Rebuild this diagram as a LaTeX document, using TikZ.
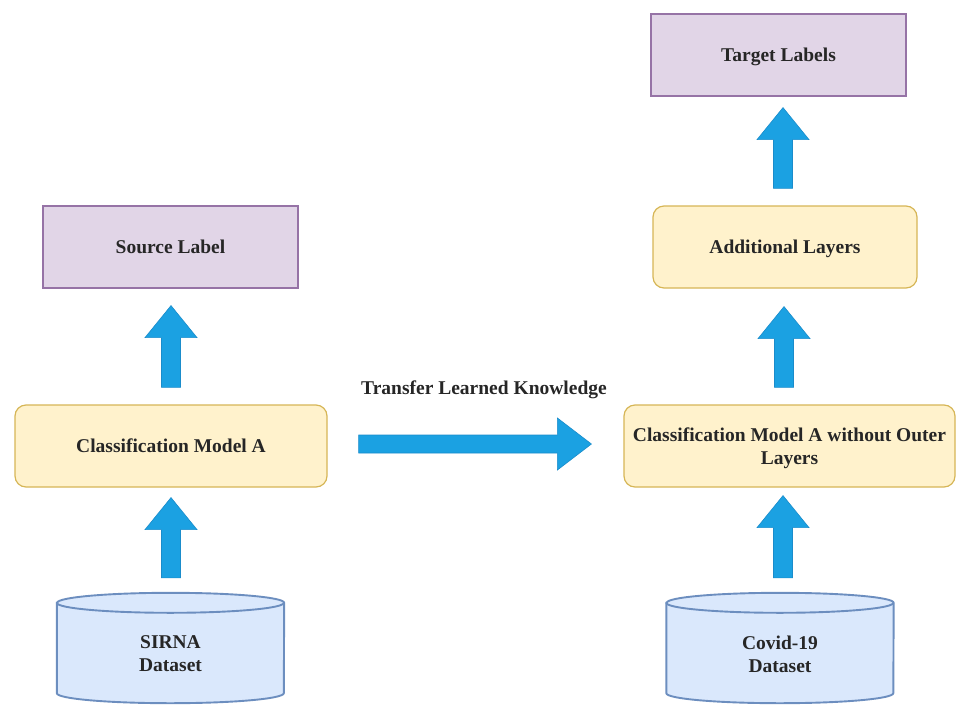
\documentclass[tikz,border=0pt]{standalone}
\usepackage{fontspec}
\setmainfont{Liberation Serif}
\usetikzlibrary{calc}
\definecolor{purfill}{HTML}{E1D5E7}
\definecolor{purline}{HTML}{9673A6}
\definecolor{yelfill}{HTML}{FFF2CC}
\definecolor{yelline}{HTML}{D6B656}
\definecolor{blufill}{HTML}{DAE8FC}
\definecolor{bluline}{HTML}{6C8EBF}
\definecolor{arrfill}{HTML}{1BA1E2}
\definecolor{arrline}{HTML}{1A8CCB}
\tikzset{
  lbl/.style={font=\fontsize{19.5}{23}\selectfont\bfseries, text=black!85, align=center},
  purbox/.style={lbl, draw=purline, fill=purfill, line width=1.2pt, minimum width=255pt, minimum height=82pt, inner sep=0pt, text depth=0pt},
  yelbox/.style={lbl, draw=yelline, fill=yelfill, line width=1.2pt, rounded corners=11pt, minimum height=82pt, inner sep=0pt, text depth=0pt},
  cylbox/.style={lbl, minimum width=227pt, minimum height=110pt, inner sep=0pt},
  cylline/.style={draw=bluline, fill=blufill, line width=1.9pt},
  blockarr/.style={fill=arrfill, draw=arrline, line width=0.6pt}
}
\newcommand{\uparr}[2]{%
  \filldraw[blockarr] let \p1=(#1), \p2=(#2) in
    (\x1-9.5pt,\y1) -- (\x1-9.5pt,\y2-32pt) -- (\x1-26pt,\y2-32pt) -- (\x1,\y2)
    -- (\x1+26pt,\y2-32pt) -- (\x1+9.5pt,\y2-32pt) -- (\x1+9.5pt,\y1) -- cycle;}
\newcommand{\rightarr}[2]{%
  \filldraw[blockarr] let \p1=(#1), \p2=(#2) in
    (\x1,\y1+9pt) -- (\x2-34pt,\y1+9pt) -- (\x2-34pt,\y1+26pt) -- (\x2,\y1)
    -- (\x2-34pt,\y1-26pt) -- (\x2-34pt,\y1-9pt) -- (\x1,\y1-9pt) -- cycle;}
\newcommand{\cylinder}[1]{%
  \filldraw[cylline] ($(#1.north west)+(0,10)$) -- ($(#1.south west)+(0,-10)$)
    arc[start angle=180, end angle=360, x radius=113.5pt, y radius=10pt]
    -- ($(#1.north east)+(0,10)$)
    arc[start angle=0, end angle=180, x radius=113.5pt, y radius=10pt] -- cycle;
  \draw[cylline, fill=none] ($(#1.north west)+(0,10)$)
    arc[start angle=180, end angle=360, x radius=113.5pt, y radius=10pt];}
\begin{document}
\begin{tikzpicture}[x=1pt, y=-1pt]
\useasboundingbox (0,0) rectangle (956,707);
% nodes
\node[purbox] (src) at (170.5,247) {Source Label};
\node[purbox] (tgt) at (778.5,55) {Target Labels};
\node[yelbox, minimum width=312pt] (modA) at (171,446) {Classification Model A};
\node[yelbox, minimum width=331pt] (modB) at (789.5,446) {Classification Model A without Outer\\Layers};
\node[yelbox, minimum width=264pt] (addl) at (785,247) {Additional Layers};
\node[cylbox] (sirna) at (170.5,648) {};
\node[cylbox] (covid) at (780,648) {};
\cylinder{sirna}
\cylinder{covid}
\node[lbl] (sirnatxt) at (170.5,654) {SIRNA\\Dataset};
\node[lbl] (covidtxt) at (780,654) {Covid-19\\Dataset};
\node[lbl] (transfer) at (484,390) {Transfer Learned Knowledge};
% connector end points
\coordinate (l1b) at ($(sirna.north)+(0.5,-15)$);
\coordinate (l1t) at ($(modA.south)+(0,10)$);
\coordinate (l2b) at ($(modA.north)+(0,-17)$);
\coordinate (l2t) at ($(src.south)+(0,17)$);
\coordinate (r1b) at ($(covid.north)+(3,-15)$);
\coordinate (r1t) at ($(modB.south)+(-6.5,8)$);
\coordinate (r2b) at ($(modB.north)+(-5.5,-17)$);
\coordinate (r2t) at ($(addl.south)+(-1,18)$);
\coordinate (r3b) at ($(addl.north)+(-2,-17)$);
\coordinate (r3t) at ($(tgt.south)+(4,11)$);
\coordinate (hl) at ($(modA.east)+(31,-2)$);
\coordinate (hr) at ($(modB.west)+(-32,-2)$);
% arrows
\uparr{l1b}{l1t}
\uparr{l2b}{l2t}
\uparr{r1b}{r1t}
\uparr{r2b}{r2t}
\uparr{r3b}{r3t}
\rightarr{hl}{hr}
\end{tikzpicture}
\end{document}
